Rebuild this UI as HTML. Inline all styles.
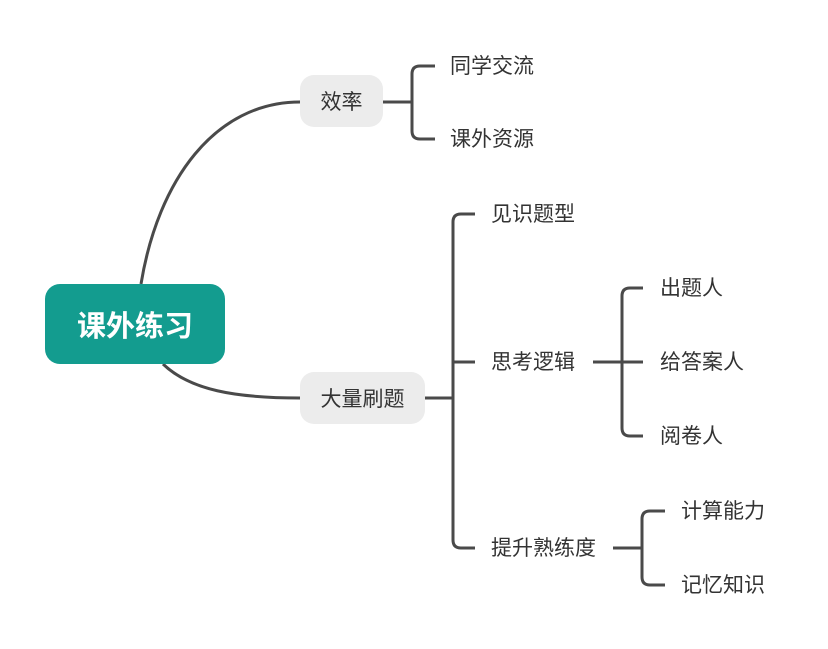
<!DOCTYPE html>
<html><head><meta charset="utf-8"><style>
html,body{margin:0;padding:0;background:#fff;}
body{width:828px;height:649px;position:relative;overflow:hidden;font-family:"Liberation Sans","Noto Sans CJK SC",sans-serif;}
svg{position:absolute;left:0;top:0;}
.t{position:absolute;font-size:21px;color:#333;line-height:26px;white-space:nowrap;}
.box{position:absolute;background:#ececec;border-radius:14px;font-size:21px;color:#333;display:flex;align-items:center;justify-content:center;}
.root{position:absolute;left:45px;top:284px;width:180px;height:80px;background:#139c8f;border-radius:15px;color:#fff;font-weight:bold;font-size:29px;display:flex;align-items:center;justify-content:center;}
</style></head><body>
<svg width="828" height="649" fill="none" stroke="#4a4a4a" stroke-width="3">
<path d="M141,284 C158,180 215,102 300,102"/>
<path d="M163,364 C190,390 235,398 300,398"/>
<path d="M383,102 H412 M435,66 H420 Q412,66 412,74 V131 Q412,139 420,139 H435"/>
<path d="M425,398 H453 M475,214 H461 Q453,214 453,222 V540 Q453,548 461,548 H475 M453,362 Q453,362 460,362 H475"/>
<path d="M593,362 H643 M643,288 H630 Q622,288 622,296 V428 Q622,436 630,436 H643"/>
<path d="M613,548 H642 M665,511 H650 Q642,511 642,519 V577 Q642,585 650,585 H665"/>
</svg>
<div class="root">课外练习</div>
<div class="box" style="left:300px;top:75px;width:83px;height:52px;">效率</div>
<div class="box" style="left:300px;top:372px;width:125px;height:52px;">大量刷题</div>
<div class="t" style="left:450px;top:54px;">同学交流</div>
<div class="t" style="left:450px;top:127px;">课外资源</div>
<div class="t" style="left:491px;top:202px;">见识题型</div>
<div class="t" style="left:491px;top:350px;">思考逻辑</div>
<div class="t" style="left:491px;top:536px;">提升熟练度</div>
<div class="t" style="left:660px;top:276px;">出题人</div>
<div class="t" style="left:660px;top:350px;">给答案人</div>
<div class="t" style="left:660px;top:424px;">阅卷人</div>
<div class="t" style="left:681px;top:499px;">计算能力</div>
<div class="t" style="left:681px;top:573px;">记忆知识</div>
</body></html>
